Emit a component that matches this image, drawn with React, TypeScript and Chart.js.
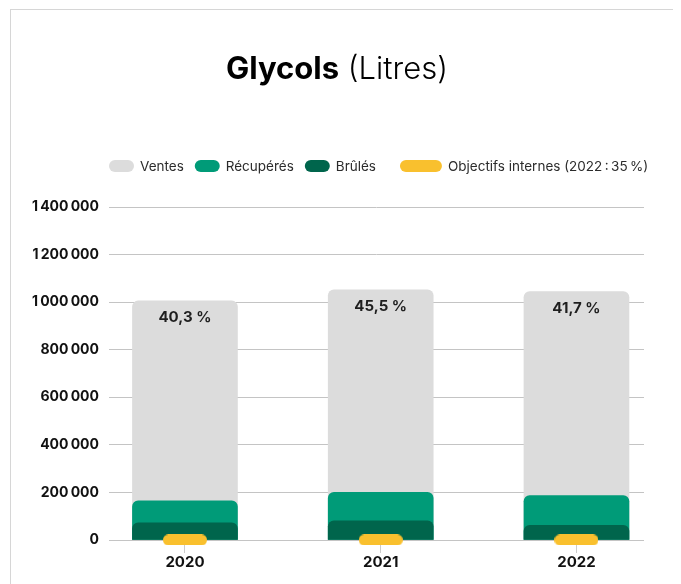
import React, { useEffect, useRef } from "react";
import { Chart, registerables } from "chart.js";

Chart.register(...registerables);

// ---- Data ----
const years = ["2020", "2021", "2022"];
const ventes = [1005000, 1052000, 1044000];
const recuperes = [165000, 200000, 187000];
const brules = [72000, 81000, 62000];
const objectifs = [35, 35, 35]; // objectif interne (%), plotted on the same axis
const tauxRecuperation = [40.3, 45.5, 41.7];
const yTicks = [0, 200000, 400000, 600000, 800000, 1000000, 1200000, 1400000];

const seriesLabels = ["Ventes", "Récupérés", "Brûlés", "Objectifs internes (2022\u202f:\u202f35\u202f%)"];
const colors = ["#dcdcdc", "#009b78", "#00654c", "#f9c02e"];

const FONT = "Inter, 'Noto Sans', sans-serif";

function fmtThousands(v: number): string {
  return String(v).replace(/\B(?=(\d{3})+(?!\d))/g, "\u202f");
}

function makePill(w: number, h: number, color: string): HTMLCanvasElement {
  const c = document.createElement("canvas");
  c.width = w;
  c.height = h;
  const ctx = c.getContext("2d")!;
  ctx.fillStyle = color;
  ctx.beginPath();
  (ctx as any).roundRect(0, 0, w, h, h / 2);
  ctx.fill();
  return c;
}

function roundRect(ctx: CanvasRenderingContext2D, x: number, y: number, w: number, h: number, r: number) {
  ctx.beginPath();
  (ctx as any).roundRect(x, y, w, h, r);
  ctx.fill();
}

const decorPlugin = {
  id: "decor",
  afterDatasetsDraw(chart: any) {
    const ctx: CanvasRenderingContext2D = chart.ctx;
    const meta = chart.getDatasetMeta(0);
    ctx.save();
    ctx.font = `bold 15px ${FONT}`;
    ctx.fillStyle = "#1f1f1f";
    ctx.textAlign = "center";
    ctx.textBaseline = "middle";
    meta.data.forEach((el: any, i: number) => {
      const txt = tauxRecuperation[i].toFixed(1).replace(".", ",") + "\u00a0%";
      ctx.fillText(txt, el.x, el.y + 17);
    });
    ctx.restore();
  },
  afterDraw(chart: any) {
    const ctx: CanvasRenderingContext2D = chart.ctx;
    ctx.save();
    // Title
    const bold = `bold 31px ${FONT}`;
    const light = `300 31px ${FONT}`;
    ctx.font = bold;
    const w1 = ctx.measureText("Glycols").width;
    ctx.font = light;
    const w2 = ctx.measureText(" (Litres)").width;
    const cx = 326;
    const x0 = cx - (w1 + w2) / 2;
    ctx.fillStyle = "#000";
    ctx.textBaseline = "alphabetic";
    ctx.textAlign = "left";
    ctx.font = bold;
    ctx.fillText("Glycols", x0, 69);
    ctx.font = light;
    ctx.fillText(" (Litres)", x0 + w1, 69);

    // Legend
    const pillW = [25, 25, 25, 42];
    const gapAfter = [11, 11, 24, 0];
    const cy = 156;
    let x = 98;
    ctx.font = `13.5px ${FONT}`;
    ctx.textBaseline = "middle";
    chart.data.datasets.forEach((ds: any, i: number) => {
      ctx.fillStyle = colors[i];
      roundRect(ctx, x, cy - 6, pillW[i], 12, 6);
      x += pillW[i] + 6;
      ctx.fillStyle = "#2b2b2b";
      ctx.fillText(ds.label, x, cy + 0.5);
      x += ctx.measureText(ds.label).width + gapAfter[i];
    });
    ctx.restore();
  },
};

export default function App() {
  const ref = useRef<HTMLCanvasElement | null>(null);

  useEffect(() => {
    if (!ref.current) return;
    const pill = makePill(44, 11, colors[3]);
    const toXY = (arr: number[]) => arr.map((v, i) => ({ x: i, y: v }));
    const barCommon = {
      barThickness: 105,
      borderRadius: 6,
      borderSkipped: "start",
      grouped: false,
    };
    const chart = new Chart(ref.current, {
      type: "bar",
      data: {
        datasets: [
          { ...barCommon, label: seriesLabels[0], data: toXY(ventes), backgroundColor: colors[0], order: 3 } as any,
          { ...barCommon, label: seriesLabels[1], data: toXY(recuperes), backgroundColor: colors[1], order: 2 } as any,
          { ...barCommon, label: seriesLabels[2], data: toXY(brules), backgroundColor: colors[2], order: 1 } as any,
          {
            type: "line",
            label: seriesLabels[3],
            data: toXY(objectifs),
            showLine: false,
            pointStyle: pill,
            pointRadius: 10,
            backgroundColor: colors[3],
            borderColor: colors[3],
            order: 0,
            clip: false,
          } as any,
        ],
      },
      options: {
        animation: false,
        responsive: false,
        events: [],
        layout: { padding: { left: 20, right: 31, top: 197, bottom: 20 } },
        plugins: {
          legend: { display: false },
          title: { display: false },
          tooltip: { enabled: false },
        },
        scales: {
          x: {
            type: "linear",
            offset: false,
            min: -0.388,
            max: 2.345,
            afterDataLimits: (s: any) => {
              s.min = -0.388;
              s.max = 2.345;
            },
            afterBuildTicks: (s: any) => {
              s.ticks = years.map((_, i) => ({ value: i }));
            },
            afterFit: (s: any) => {
              s.height = 40;
            },
            ticks: {
              callback: (v: any) => years[v] ?? "",
              font: { family: FONT, size: 15, weight: "bold" },
              color: "#111",
              padding: 0,
              autoSkip: false,
              maxRotation: 0,
            },
            grid: { offset: false, drawOnChartArea: false, drawTicks: true, tickLength: 13, color: "#cccccc" },
            border: { display: false },
          },
          y: {
            min: 0,
            max: 1400000,
            afterBuildTicks: (s: any) => {
              s.ticks = yTicks.map((v) => ({ value: v }));
            },
            afterFit: (s: any) => {
              s.width = 78;
            },
            ticks: {
              callback: (v: any) => fmtThousands(Number(v)),
              font: { family: FONT, size: 14, weight: "bold" },
              color: "#111",
              padding: 10,
            },
            grid: { drawTicks: false, color: "#c4c4c4" },
            border: { display: false },
          },
        },
      } as any,
      plugins: [decorPlugin],
    });
    return () => chart.destroy();
  }, []);

  return (
    <div
      style={{
        marginLeft: 2,
        marginTop: 1,
        width: 664,
        height: 600,
        border: "1px solid #d6d6d6",
        background: "#fff",
      }}
    >
      <canvas ref={ref} width={664} height={590} style={{ display: "block" }} />
    </div>
  );
}
